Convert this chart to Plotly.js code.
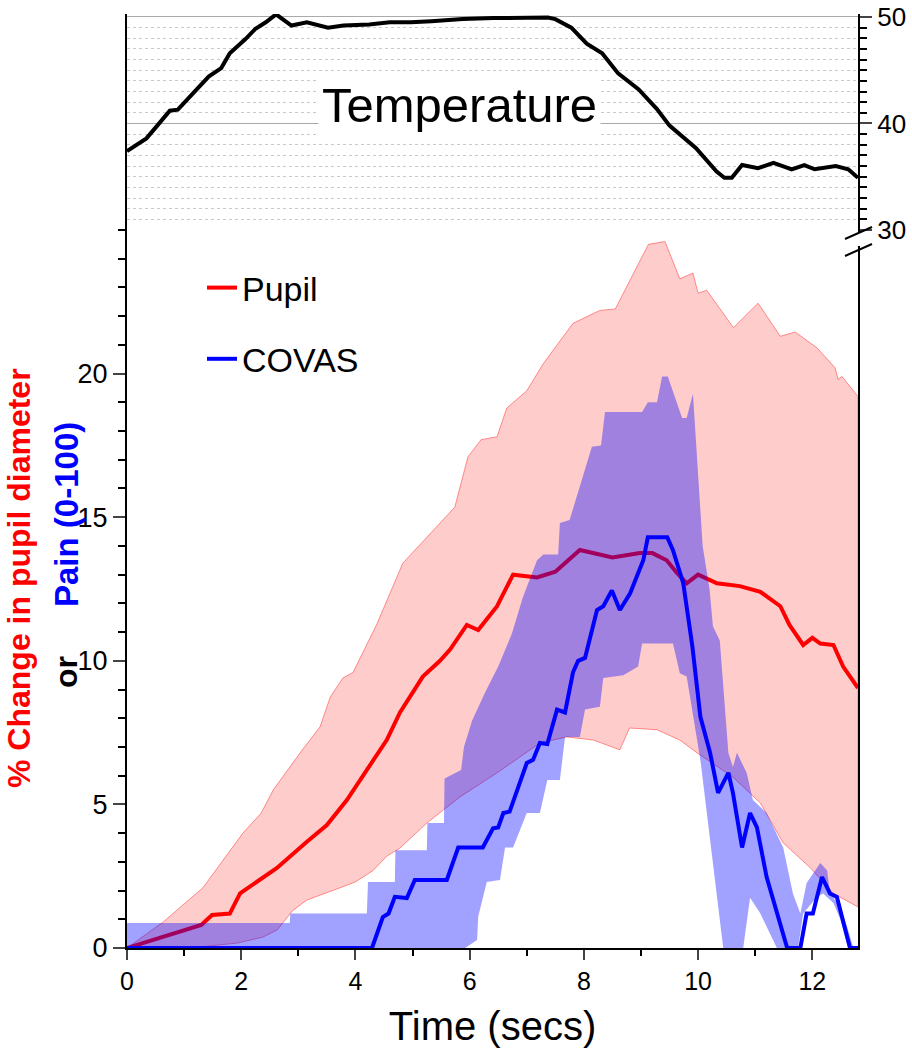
<!DOCTYPE html>
<html>
<head>
<meta charset="utf-8">
<script src="https://cdn.plot.ly/plotly-3.0.1.min.js"></script>
<style>
  html, body { margin: 0; padding: 0; background: #fff; }
  #chart { width: 912px; height: 1050px; }
</style>
</head>
<body>
<div id="chart"></div>
<script>
// temperature trace (top panel, deg C)
const tempT = [0, 0.34, 0.53, 0.75, 0.89, 1.11, 1.43, 1.65, 1.8, 2.07, 2.25, 2.43, 2.61, 2.7, 2.88, 3.15, 3.52, 3.79, 4.24, 4.6, 4.97, 5.33, 5.88, 6.42, 6.96, 7.37, 7.5, 7.78, 8.05, 8.32, 8.6, 8.96, 9.28, 9.5, 9.96, 10.32, 10.46, 10.59, 10.77, 11.05, 11.32, 11.64, 11.86, 12.04, 12.41, 12.63, 12.8];
const tempV = [37.4, 38.6, 39.8, 41.2, 41.3, 42.6, 44.4, 45.2, 46.6, 47.9, 48.9, 49.5, 50.25, 49.9, 49.2, 49.5, 49.0, 49.2, 49.3, 49.5, 49.5, 49.6, 49.8, 49.9, 49.9, 49.95, 49.8, 49.0, 47.5, 46.6, 44.7, 43.2, 41.35, 39.8, 37.7, 35.5, 34.9, 34.9, 36.1, 35.8, 36.3, 35.7, 36.1, 35.7, 36.0, 35.7, 34.9];

// pupil: mean and band (% change)
const pupilT = [0, 0.5, 1.0, 1.3, 1.49, 1.8, 1.98, 2.33, 2.62, 3.15, 3.5, 3.85, 4.2, 4.55, 4.78, 5.18, 5.48, 5.66, 5.95, 6.15, 6.48, 6.76, 7.18, 7.5, 7.93, 8.5, 8.98, 9.2, 9.45, 9.63, 9.8, 10.0, 10.33, 10.73, 11.09, 11.44, 11.6, 11.84, 12.0, 12.14, 12.37, 12.54, 12.8];
const pupilMean = [0, 0.3, 0.6, 0.8, 1.15, 1.2, 1.9, 2.37, 2.78, 3.7, 4.28, 5.15, 6.2, 7.25, 8.2, 9.45, 10.0, 10.4, 11.25, 11.07, 11.9, 13.0, 12.9, 13.1, 13.86, 13.6, 13.75, 13.75, 13.5, 13.06, 12.7, 13.0, 12.7, 12.6, 12.4, 11.9, 11.25, 10.55, 10.8, 10.6, 10.55, 9.8, 9.05];
const pupilUpT = [0, 0.63, 1.33, 2.03, 2.35, 2.56, 3.07, 3.38, 3.56, 3.78, 3.96, 4.38, 4.83, 5.36, 5.74, 5.97, 6.2, 6.48, 6.65, 7.0, 7.29, 7.81, 8.28, 8.55, 9.13, 9.42, 9.68, 9.91, 10.0, 10.15, 10.62, 11.05, 11.44, 11.7, 12.08, 12.4, 12.45, 12.52, 12.8];
const pupilUpV = [0, 0.9, 2.1, 4.0, 4.7, 5.5, 6.9, 7.7, 8.74, 9.4, 9.6, 11.3, 13.4, 14.55, 15.35, 17.1, 17.7, 17.8, 18.8, 19.4, 20.35, 21.75, 22.2, 22.25, 24.5, 24.6, 23.3, 23.5, 22.8, 22.9, 21.6, 22.45, 21.3, 21.45, 20.9, 20.2, 19.8, 19.9, 19.2];
const pupilLoT = [0, 1.33, 1.93, 2.38, 2.63, 2.9, 3.15, 3.6, 4.0, 4.31, 4.55, 4.78, 5.25, 5.83, 6.48, 6.88, 7.23, 7.7, 8.17, 8.63, 8.8, 9.28, 9.68, 9.98, 10.61, 11.09, 11.49, 11.96, 12.37, 12.8];
const pupilLoV = [0, 0.05, 0.17, 0.38, 0.63, 1.3, 1.67, 2.0, 2.3, 2.7, 3.2, 3.48, 4.35, 5.26, 6.1, 6.65, 7.14, 7.35, 7.24, 6.9, 7.66, 7.6, 7.24, 6.8, 5.95, 5.05, 3.66, 2.8, 1.9, 1.43];

// COVAS pain rating: mean and band (0-100)
const covasT = [0, 4.29, 4.48, 4.58, 4.69, 4.9, 5.04, 5.6, 5.8, 6.23, 6.41, 6.5, 6.59, 6.7, 7.0, 7.11, 7.23, 7.36, 7.53, 7.67, 7.81, 7.9, 8.02, 8.23, 8.34, 8.49, 8.63, 8.81, 9.04, 9.12, 9.46, 9.56, 9.74, 9.9, 10.04, 10.21, 10.35, 10.53, 10.61, 10.77, 10.91, 11.03, 11.2, 11.38, 11.56, 11.79, 11.9, 12.01, 12.17, 12.31, 12.43, 12.66, 12.8];
const covasMean = [0, 0, 1.08, 1.2, 1.78, 1.74, 2.37, 2.37, 3.5, 3.5, 4.17, 4.2, 4.7, 4.75, 6.44, 6.55, 7.14, 7.1, 8.3, 8.2, 9.6, 10.0, 10.1, 11.77, 11.9, 12.45, 11.77, 12.35, 13.5, 14.3, 14.3, 13.85, 12.7, 10.5, 8.05, 6.8, 5.4, 6.1, 5.4, 3.5, 4.7, 4.2, 2.47, 1.2, 0, 0, 1.2, 1.2, 2.47, 1.9, 1.78, 0, 0];
const covasUpT = [0, 2.85, 2.86, 4.2, 4.22, 4.69, 4.7, 5.25, 5.26, 5.55, 5.56, 5.85, 5.9, 6.04, 6.27, 6.5, 6.74, 6.93, 7.18, 7.29, 7.55, 7.58, 7.75, 7.97, 8.14, 8.3, 8.37, 9.02, 9.12, 9.28, 9.37, 9.47, 9.72, 9.8, 9.91, 10.08, 10.2, 10.26, 10.38, 10.53, 10.61, 10.68, 10.85, 10.96, 11.2, 11.49, 11.66, 11.79, 11.9, 12.14, 12.26, 12.31, 12.49, 12.61, 12.72, 12.8];
const covasUpV = [0.87, 0.87, 1.2, 1.2, 2.3, 2.3, 3.4, 3.4, 4.35, 4.35, 5.9, 6.2, 7.0, 7.9, 8.9, 9.8, 10.95, 12.2, 13.5, 13.7, 13.7, 14.8, 14.9, 16.3, 17.45, 17.5, 18.66, 18.66, 19.0, 19.0, 19.9, 19.9, 18.45, 18.45, 19.3, 14.0, 12.5, 11.2, 10.7, 6.8, 6.3, 6.8, 6.1, 5.15, 4.7, 3.5, 1.9, 1.2, 2.26, 2.96, 2.7, 1.9, 1.43, 0.73, 0, 0];
const covasLoT = [0, 5.92, 6.13, 6.15, 6.3, 6.53, 6.62, 6.76, 7.0, 7.23, 7.36, 7.58, 7.67, 7.93, 8.02, 8.28, 8.34, 8.69, 8.95, 9.02, 9.56, 9.68, 9.8, 10.04, 10.21, 10.44, 10.79, 10.91, 11.09, 11.38, 11.75, 11.84, 12.08, 12.19, 12.37, 12.49, 12.63, 12.8];
const covasLoV = [0, 0, 0.28, 1.1, 2.3, 2.37, 3.5, 3.5, 4.7, 4.7, 5.85, 5.85, 7.35, 7.35, 8.3, 8.4, 9.4, 9.5, 9.8, 10.6, 10.6, 9.57, 9.45, 6.55, 3.87, 0, 0, 1.75, 1.2, 0, 0, 1.2, 1.78, 1.9, 1.57, 1.0, 0, 0];

const xTicks = [0, 2, 4, 6, 8, 10, 12];
const painTicks = [0, 5, 10, 15, 20];
const tempTicks = [30, 40, 50];

const FONT = 'Liberation Sans, Arial, sans-serif';

// plot area in page pixels: left 127, right 858, top 14, bottom 948
const PL = 127, PW = 731, PT = 14, PB = 948, PH = PB - PT;
const px = v => (v - PL) / PW;
const py = v => (PB - v) / PH;

function band(upT, upV, loT, loV) {
    return {
        x: upT.concat(loT.slice().reverse()),
        y: upV.concat(loV.slice().reverse())
    };
}

const pb = band(pupilUpT, pupilUpV, pupilLoT, pupilLoV);
const cb = band(covasUpT, covasUpV, covasLoT, covasLoV);

const traces = [
    {
        x: pb.x, y: pb.y, type: 'scatter', mode: 'lines', fill: 'toself',
        fillcolor: 'rgba(255,0,0,0.2)', line: { color: 'rgba(255,60,60,0.7)', width: 0.8 },
        showlegend: false, hoverinfo: 'skip'
    },
    {
        x: pupilT, y: pupilMean, type: 'scatter', mode: 'lines', name: 'Pupil',
        line: { color: '#ff0000', width: 4 }, legendgroup: 'p'
    },
    {
        x: cb.x, y: cb.y, type: 'scatter', mode: 'lines', fill: 'toself',
        fillcolor: 'rgba(0,0,255,0.37)', line: { width: 0 },
        showlegend: false, hoverinfo: 'skip'
    },
    {
        x: covasT, y: covasMean, type: 'scatter', mode: 'lines', name: 'COVAS',
        line: { color: '#0000ff', width: 4 }, legendgroup: 'c'
    },
    {
        x: tempT, y: tempV, type: 'scatter', mode: 'lines', name: 'Temperature',
        xaxis: 'x', yaxis: 'y2', line: { color: '#000', width: 4 }, showlegend: false,
        cliponaxis: false
    }
];

// split point between the two panels
const split = py(230);

const layout = {
    width: 912, height: 1050,
    margin: { l: PL, r: 912 - PL - PW, t: PT, b: 1050 - PB },
    paper_bgcolor: '#fff', plot_bgcolor: 'rgba(0,0,0,0)',
    font: { family: FONT, color: '#000' },
    showlegend: true,
    legend: {
        x: px(202), y: py(259), xanchor: 'left', yanchor: 'top',
        font: { size: 34, family: FONT }, bgcolor: 'rgba(0,0,0,0)',
        traceorder: 'grouped', tracegroupgap: 24
    },
    xaxis: {
        range: [0, 12.8], tickvals: xTicks, ticks: 'outside', ticklen: 10, tickwidth: 2,
        minor: { dtick: 1, tick0: 0, ticks: 'outside', ticklen: 6, tickwidth: 2, tickcolor: '#000' },
        showline: true, linewidth: 2, linecolor: '#000', showgrid: false, zeroline: false,
        tickfont: { size: 25 },
        title: { text: 'Time (secs)', font: { size: 40 }, standoff: 18 },
        anchor: 'y'
    },
    yaxis: {
        domain: [0, split], range: [0, 25], tickvals: painTicks,
        ticks: 'outside', ticklen: 12, tickwidth: 2,
        minor: { dtick: 1, tick0: 0, ticks: 'outside', ticklen: 7, tickwidth: 2, tickcolor: '#000' },
        showline: true, mirror: true, linewidth: 2, linecolor: '#000',
        showgrid: false, zeroline: false, tickfont: { size: 27 }
    },
    yaxis2: {
        domain: [split, 1], range: [30, 50.28], anchor: 'x', side: 'right',
        tickvals: tempTicks, ticks: 'outside', ticklen: 12, tickwidth: 2,
        ticklabeloverflow: 'allow',
        showgrid: true, gridcolor: '#aaaaaa', gridwidth: 1,
        minor: {
            dtick: 1, tick0: 30, ticks: 'outside', ticklen: 7, tickwidth: 2, tickcolor: '#000',
            showgrid: true, gridcolor: '#c8c8c8', griddash: 'dot', gridwidth: 1
        },
        showline: true, mirror: true, linewidth: 2, linecolor: '#000',
        zeroline: false, tickfont: { size: 26 }
    },
    annotations: [
        {
            x: 5.83, y: 41.7, xref: 'x', yref: 'y2', text: 'Temperature', showarrow: false,
            font: { size: 49, family: FONT, color: '#000' }, bgcolor: '#fff', borderpad: 3
        },
        {
            x: px(19), y: py(578), xref: 'paper', yref: 'paper',
            text: '<b>% Change in pupil diameter</b>', textangle: -90, showarrow: false,
            xanchor: 'center', yanchor: 'middle', font: { size: 32, family: FONT, color: '#ff0000' }
        },
        {
            x: px(66), y: py(672), xref: 'paper', yref: 'paper',
            text: '<b>or</b>', textangle: -90, showarrow: false,
            xanchor: 'center', yanchor: 'middle', font: { size: 32, family: FONT, color: '#000' }
        },
        {
            x: px(66), y: py(515), xref: 'paper', yref: 'paper',
            text: '<b>Pain (0-100)</b>', textangle: -90, showarrow: false,
            xanchor: 'center', yanchor: 'middle', font: { size: 33, family: FONT, color: '#0000ff' }
        }
    ],
    shapes: [
        // gap in the right axis for the break
        { type: 'rect', xref: 'paper', yref: 'paper', layer: 'above',
          x0: px(851), x1: px(866), y0: py(246), y1: py(232),
          fillcolor: '#fff', line: { width: 0 } },
        { type: 'line', xref: 'paper', yref: 'paper', layer: 'above',
          x0: px(845), y0: py(239), x1: px(872), y1: py(227),
          line: { color: '#000', width: 2 } },
        { type: 'line', xref: 'paper', yref: 'paper', layer: 'above',
          x0: px(845), y0: py(256), x1: px(872), y1: py(244),
          line: { color: '#000', width: 2 } }
    ]
};

Plotly.newPlot('chart', traces, layout, { displayModeBar: false, staticPlot: true });
</script>
</body>
</html>
